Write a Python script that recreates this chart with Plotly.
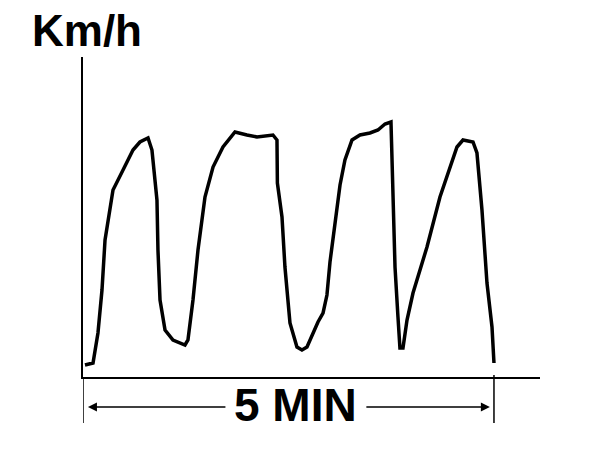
import plotly.graph_objects as go

# time in minutes, speed in km/h
time_min = [0.024, 0.122, 0.182, 0.231, 0.268, 0.328, 0.365, 0.487, 0.608, 0.693,
            0.791, 0.839, 0.900, 0.912, 0.937, 0.998, 1.095, 1.241, 1.277, 1.338,
            1.399, 1.484, 1.582, 1.703, 1.849, 1.995, 2.117, 2.311, 2.360, 2.365,
            2.421, 2.457, 2.518, 2.603, 2.664, 2.725, 2.786, 2.859, 2.920, 2.968,
            3.005, 3.066, 3.127, 3.187, 3.273, 3.370, 3.491, 3.589, 3.674, 3.747,
            3.759, 3.796, 3.832, 3.856, 3.893, 3.942, 4.015, 4.185, 4.343, 4.465,
            4.550, 4.623, 4.745, 4.793, 4.854, 4.915, 4.976, 5.000]
speed_kmh = [3.0, 3.5, 11.0, 21.75, 34.25, 42.5, 46.75, 51.75, 56.75, 58.75,
             59.75, 56.75, 44.25, 31.75, 19.25, 11.75, 9.25, 8.0, 9.25, 19.25,
             31.75, 45.0, 52.5, 57.5, 61.25, 60.5, 60.0, 60.5, 59.25, 48.5,
             40.0, 27.5, 13.5, 7.5, 6.75, 7.5, 10.5, 13.75, 16.0, 20.5,
             28.75, 38.0, 48.0, 54.25, 59.25, 60.5, 61.0, 61.75, 63.25, 63.75,
             52.5, 27.5, 15.0, 7.25, 7.25, 14.25, 21.0, 32.5, 45.0, 52.5,
             57.5, 59.25, 58.75, 56.0, 41.75, 23.5, 12.5, 3.5]

y_label = "Km/h"
duration_label = "5 MIN"
duration_min = 5.0

FONT = "Liberation Sans, Arial, sans-serif"

fig = go.Figure()
fig.add_trace(go.Scatter(
    x=time_min, y=speed_kmh, mode="lines",
    line=dict(color="black", width=3.5),
    hoverinfo="skip", showlegend=False,
))

fig.update_layout(
    width=600, height=458,
    margin=dict(l=75, r=68, t=49, b=89),
    paper_bgcolor="white", plot_bgcolor="white",
    xaxis=dict(range=[0, 5.56], showline=True, linecolor="black", linewidth=2,
               showgrid=False, zeroline=False, showticklabels=False, ticks=""),
    yaxis=dict(range=[0, 80], showline=True, linecolor="black", linewidth=2,
               showgrid=False, zeroline=False, showticklabels=False, ticks=""),
    showlegend=False,
)

# dimension extension lines
fig.add_shape(type="line", xref="x", yref="paper", x0=0, x1=0, y0=0, y1=-0.144,
              line=dict(color="black", width=1.5))
fig.add_shape(type="line", xref="x", yref="paper", x0=duration_min, x1=duration_min,
              y0=0.006, y1=-0.144, line=dict(color="black", width=1.5))

# dimension arrows
arrow_y = -0.094
fig.add_annotation(x=0.06, y=arrow_y, xref="x", yref="paper", text="",
                   showarrow=True, axref="pixel", ayref="pixel", ax=139, ay=0,
                   arrowhead=2, arrowsize=1.2, arrowwidth=1.5, arrowcolor="black")
fig.add_annotation(x=duration_min - 0.05, y=arrow_y, xref="x", yref="paper", text="",
                   showarrow=True, axref="pixel", ayref="pixel", ax=-125, ay=0,
                   arrowhead=2, arrowsize=1.2, arrowwidth=1.5, arrowcolor="black")

fig.add_annotation(x=2.59, y=-0.0875, xref="x", yref="paper", text=duration_label,
                   showarrow=False, xanchor="center", yanchor="middle",
                   font=dict(family=FONT, size=46, color="black", weight="bold"))

fig.add_annotation(x=-0.116, y=1.084, xref="paper", yref="paper", text=y_label,
                   showarrow=False, xanchor="left", yanchor="middle",
                   font=dict(family=FONT, size=44, color="black", weight="bold"))

fig.write_html("out.html")
